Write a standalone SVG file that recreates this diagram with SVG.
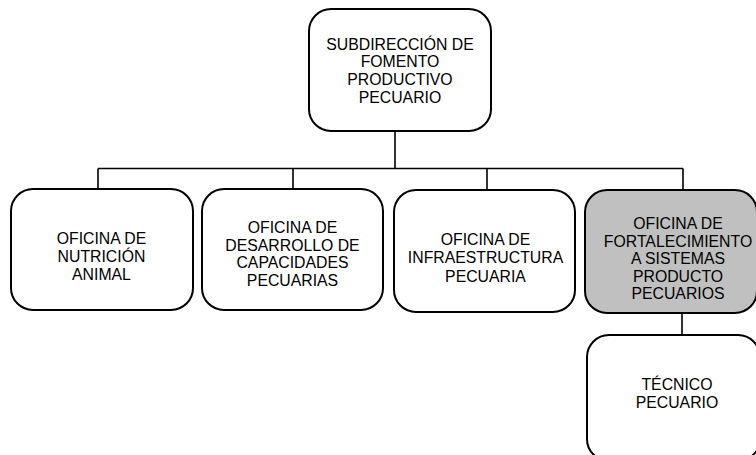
<svg xmlns="http://www.w3.org/2000/svg" width="756" height="455" viewBox="0 0 756 455">
<style>
.box{fill:#ffffff;stroke:#000000;stroke-width:2}
.grey{fill:#c0c0c0}
.ln{fill:none;stroke:#000000;stroke-width:1.6}
text{font-family:"Liberation Sans",Arial,sans-serif;font-size:15.8px;fill:#000000;text-anchor:middle}
</style>
<rect width="756" height="455" fill="#ffffff"/>
<g id="connectors">
<path class="ln" d="M395,131 V168.5 M98,168.5 H683 M98,168.5 V189 M293,168.5 V189 M487,168.5 V190 M683,168.5 V190 M682,313 V335"/>
</g>
<g id="subdireccion">
<rect class="box" x="309" y="9" width="182" height="122" rx="22"/>
<text x="400" y="49.5">SUBDIRECCIÓN DE</text>
<text x="400" y="67.3">FOMENTO</text>
<text x="400" y="85">PRODUCTIVO</text>
<text x="400" y="102.7">PECUARIO</text>
</g>
<g id="nutricion">
<rect class="box" x="11" y="189" width="182" height="121" rx="22"/>
<text x="101.5" y="243.5">OFICINA DE</text>
<text x="101.5" y="261.8">NUTRICIÓN</text>
<text x="101.5" y="280">ANIMAL</text>
</g>
<g id="desarrollo">
<rect class="box" x="202" y="189" width="181" height="121" rx="22"/>
<text x="292.5" y="232.7">OFICINA DE</text>
<text x="292.5" y="250.7">DESARROLLO DE</text>
<text x="292.5" y="268.4">CAPACIDADES</text>
<text x="292.5" y="286">PECUARIAS</text>
</g>
<g id="infraestructura">
<rect class="box" x="394" y="190" width="181" height="122" rx="22"/>
<text x="485.5" y="245">OFICINA DE</text>
<text x="485.5" y="263.3">INFRAESTRUCTURA</text>
<text x="485.5" y="281.7">PECUARIA</text>
</g>
<g id="fortalecimiento">
<rect class="box grey" x="585" y="190" width="172" height="123" rx="22"/>
<text x="678" y="229">OFICINA DE</text>
<text x="678" y="246.7">FORTALECIMIENTO</text>
<text x="678" y="264.3">A SISTEMAS</text>
<text x="678" y="281.8">PRODUCTO</text>
<text x="678" y="299.3">PECUARIOS</text>
</g>
<g id="tecnico">
<rect class="box" x="587" y="335" width="173" height="126" rx="22"/>
<text x="677" y="390">TÉCNICO</text>
<text x="677" y="407.5">PECUARIO</text>
</g>
</svg>
